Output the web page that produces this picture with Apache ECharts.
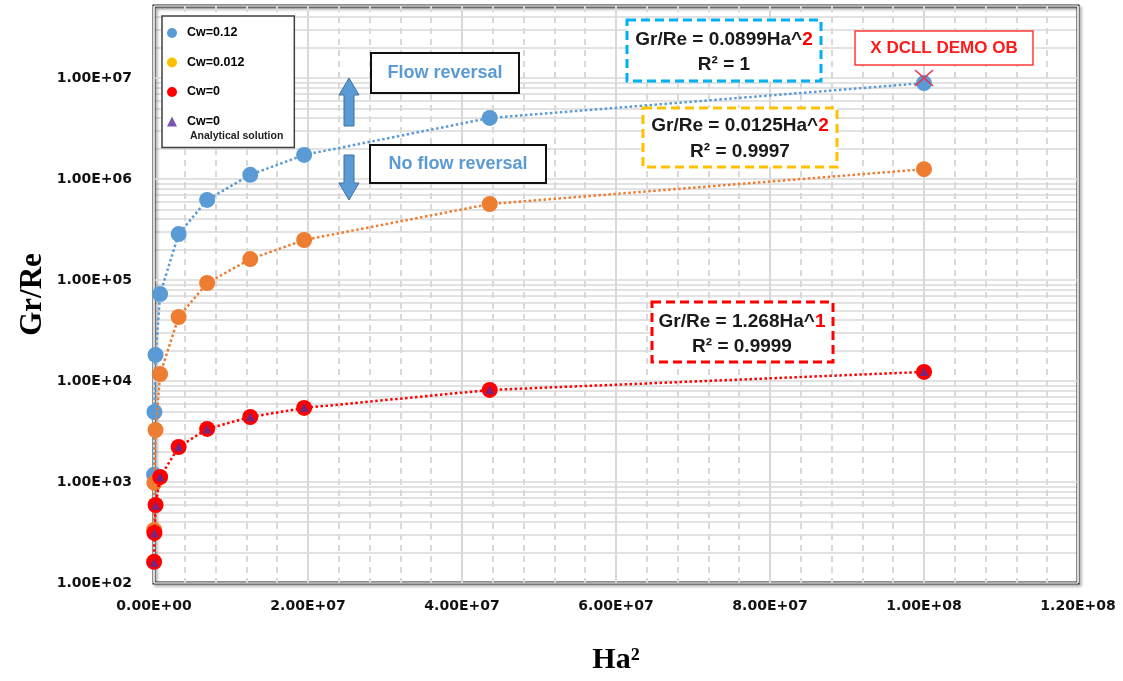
<!DOCTYPE html>
<html><head><meta charset="utf-8">
<script src="https://cdn.jsdelivr.net/npm/echarts@6/dist/echarts.min.js"></script>
<style>html,body{margin:0;padding:0;background:#fff}#c{width:1123px;height:681px}</style>
</head><body><div id="c"></div>
<script>
// ---- data ----
const ha2 = [1.3e4, 5.5e4, 2.0e5, 8.0e5, 3.2e6, 6.9e6, 1.25e7, 1.95e7, 4.36e7, 1.0e8];
const cw012 = [1180, 4930, 18100, 72600, 285000, 620000, 1100000, 1730000, 4020000, 8900000];
const cw0012 = [335, 980, 3270, 11700, 43000, 93400, 161000, 249000, 565000, 1250000];
const cw0 = [162, 313, 592, 1120, 2220, 3350, 4400, 5410, 8150, 12300];
const cw0Analytical = [160, 312, 590, 1125, 2230, 3340, 4420, 5450, 8200, 12400];
const dcllDemo = [[1.0e8, 1.0e7]];
const seriesNames = ['Cw=0.12', 'Cw=0.012', 'Cw=0', 'Cw=0 (analytical)'];
const xTicks = [0, 2e7, 4e7, 6e7, 8e7, 1e8, 1.2e8];
const yMin = 100, yMax = 5.16e7;

function sci(v) {
  if (v === 0) return '0.00E+00';
  const e = Math.floor(Math.log10(Math.abs(v)) + 1e-9);
  const m = v / Math.pow(10, e);
  return m.toFixed(2) + 'E' + (e < 0 ? '-' : '+') + String(Math.abs(e)).padStart(2, '0');
}
const pairs = ys => ha2.map((x, i) => [x, ys[i]]);

// minor log gridlines (2..9 x 10^n)
const yMinor = [];
for (let d = 2; d < 8; d++) for (let k = 2; k < 10; k++) { const v = k * Math.pow(10, d); if (v < yMax) yMinor.push(v); }

const chart = echarts.init(document.getElementById('c'), null, {renderer: 'canvas'});
const eqFont = {fontFamily: 'Liberation Sans', fontWeight: 'bold', fontSize: 19, fill: '#1a1a1a'};
function eqText(x, y, text) {
  return {type: 'text', z: 100, x: x, y: y, style: Object.assign({text: text, textAlign: 'center', textVerticalAlign: 'middle',
    rich: {r: {fontFamily: 'Liberation Sans', fontWeight: 'bold', fontSize: 19, fill: '#FF0000', color: '#FF0000'}}}, eqFont)};
}
function box(x, y, w, h, stroke, lw, dash) {
  return {type: 'rect', z: 99, shape: {x: x, y: y, width: w, height: h},
    style: {fill: '#fff', stroke: stroke, lineWidth: lw, lineDash: dash || null}};
}
const noLine = {width: 0, opacity: 0};

const option = {
  animation: false,
  backgroundColor: '#fff',
  grid: {left: 154, right: 45, top: 6, bottom: 98, show: true, borderColor: '#262626', borderWidth: 3,
    outerBoundsMode: 'none', containLabel: false,
    shadowColor: 'rgba(0,0,0,0.35)', shadowBlur: 3, shadowOffsetX: 2, shadowOffsetY: 2},
  xAxis: {
    type: 'value', min: xTicks[0], max: xTicks[xTicks.length - 1], interval: xTicks[1] - xTicks[0],
    name: 'Ha²', nameLocation: 'middle', nameGap: 62, nameMoveOverlap: false,
    nameTextStyle: {fontFamily: 'Liberation Serif', fontWeight: 'bold', fontSize: 30, color: '#000'},
    axisLine: {show: false}, axisTick: {show: false},
    axisLabel: {margin: 16, fontFamily: 'DejaVu Sans', fontWeight: 'bold', fontSize: 14, color: '#111', formatter: sci},
    splitLine: {show: true, lineStyle: {color: '#D9D9D9', width: 2}},
    minorTick: {show: false, splitNumber: 5},
    minorSplitLine: {show: true, lineStyle: {color: '#D9D9D9', width: 2, type: [6, 5]}}
  },
  yAxis: {
    type: 'log', logBase: 10, min: yMin, max: yMax,
    name: 'Gr/Re', nameLocation: 'middle', nameGap: 106, nameMoveOverlap: false,
    nameTextStyle: {fontFamily: 'Liberation Serif', fontWeight: 'bold', fontSize: 31, color: '#000'},
    axisLine: {show: false}, axisTick: {show: false},
    axisLabel: {margin: 22, fontFamily: 'DejaVu Sans', fontWeight: 'bold', fontSize: 14, color: '#111',
      formatter: v => { const l = Math.log10(v); return Math.abs(l - Math.round(l)) < 1e-6 ? sci(v) : ''; }},
    splitLine: {show: true, lineStyle: {color: '#D9D9D9', width: 1.5}}
  },
  legend: {
    z: 50,
    orient: 'vertical', left: 162, top: 16, itemWidth: 10, itemHeight: 10, itemGap: 15.5,
    padding: [10, 50, 19, 5], backgroundColor: '#fff', borderColor: '#404040', borderWidth: 1.5,
    textStyle: {fontFamily: 'Liberation Sans', fontWeight: 'bold', fontSize: 12.5, color: '#000', lineHeight: 14, padding: [0, 0, 0, 5]},
    lineStyle: noLine,
    formatter: n => n === seriesNames[3] ? 'Cw=0' : n,
    data: [
      {name: seriesNames[0], icon: 'circle', itemStyle: {color: '#5B9BD5'}, lineStyle: noLine},
      {name: seriesNames[1], icon: 'circle', itemStyle: {color: '#FFC000'}, lineStyle: noLine},
      {name: seriesNames[2], icon: 'circle', itemStyle: {color: '#FF0000'}, lineStyle: noLine},
      {name: seriesNames[3], icon: 'triangle', itemStyle: {color: '#5530A0'}}
    ]
  },
  series: [
    {type: 'line', name: '_grid', data: [], z: -1, silent: true,
      markLine: {silent: true, z: -1, symbol: ['none', 'none'], label: {show: false}, animation: false,
        lineStyle: {color: '#D9D9D9', width: 1.5, type: 'solid'}, data: yMinor.map(v => ({yAxis: v}))}},
    {type: 'line', name: seriesNames[0], data: pairs(cw012), symbol: 'circle', symbolSize: 16,
      itemStyle: {color: '#5B9BD5'}, lineStyle: {color: '#5B9BD5', width: 2.5, type: 'dotted'}, z: 3},
    {type: 'line', name: seriesNames[1], data: pairs(cw0012), symbol: 'circle', symbolSize: 16,
      itemStyle: {color: '#ED7D31'}, lineStyle: {color: '#ED7D31', width: 2.5, type: 'dotted'}, z: 4},
    {type: 'line', name: seriesNames[2], data: pairs(cw0), symbol: 'circle', symbolSize: 16,
      itemStyle: {color: '#FF0000'}, lineStyle: {color: '#FF0000', width: 2.5, type: 'dotted'}, z: 5},
    {type: 'scatter', name: seriesNames[3], data: pairs(cw0Analytical), symbol: 'triangle', symbolSize: 9,
      itemStyle: {color: '#5530A0'}, z: 6},
    {type: 'scatter', name: 'DCLL DEMO OB', data: dcllDemo, symbol: 'path://M0,0L10,10M10,0L0,10', symbolSize: [18, 16],
      itemStyle: {color: 'transparent', borderColor: '#E8304A', borderWidth: 1.8, opacity: 0.9}, z: 7}
  ],
  graphic: [
    {type: 'text', z: 100, left: 190, top: 131, style: {text: 'Analytical solution', fontFamily: 'Liberation Sans', fontSize: 10.5, fontWeight: 'bold', fill: '#222'}},
    // flow reversal boxes
    box(371, 53, 148, 40, '#111', 2),
    {type: 'text', z: 100, x: 445, y: 73, style: {text: 'Flow reversal', textAlign: 'center', textVerticalAlign: 'middle',
      fontFamily: 'Liberation Sans', fontWeight: 'bold', fontSize: 18, fill: '#5B9BD5'}},
    box(370, 145, 176, 38, '#111', 2),
    {type: 'text', z: 100, x: 458, y: 164, style: {text: 'No flow reversal', textAlign: 'center', textVerticalAlign: 'middle',
      fontFamily: 'Liberation Sans', fontWeight: 'bold', fontSize: 18, fill: '#5B9BD5'}},
    // arrows
    {type: 'polygon', z: 100, shape: {points: [[349, 78], [359, 95], [354, 95], [354, 126], [344, 126], [344, 95], [339, 95]]},
      style: {fill: '#5B9BD5', stroke: '#41719C', lineWidth: 1}},
    {type: 'polygon', z: 100, shape: {points: [[344, 155], [354, 155], [354, 183], [359, 183], [349, 200], [339, 183], [344, 183]]},
      style: {fill: '#5B9BD5', stroke: '#41719C', lineWidth: 1}},
    // equation boxes
    box(627, 20, 194, 61, '#00B0F0', 3, [9, 5]),
    eqText(724, 40, 'Gr/Re = 0.0899Ha^{r|2}'),
    eqText(724, 65, 'R² = 1'),
    box(643, 108, 194, 59, '#FFC000', 3, [9, 5]),
    eqText(740, 126, 'Gr/Re = 0.0125Ha^{r|2}'),
    eqText(740, 152, 'R² = 0.9997'),
    box(652, 302, 181, 60, '#FF0000', 3, [9, 5]),
    eqText(742, 322, 'Gr/Re = 1.268Ha^{r|1}'),
    eqText(742, 347, 'R² = 0.9999'),
    // DCLL label
    box(855, 31, 178, 34, '#FF3B3B', 1.5),
    {type: 'text', z: 100, x: 944, y: 48, style: {text: 'X DCLL DEMO OB', textAlign: 'center', textVerticalAlign: 'middle',
      fontFamily: 'Liberation Sans', fontWeight: 'bold', fontSize: 17, fill: '#FF1A1A'}}
  ]
};
chart.setOption(option);
</script>
</body></html>
